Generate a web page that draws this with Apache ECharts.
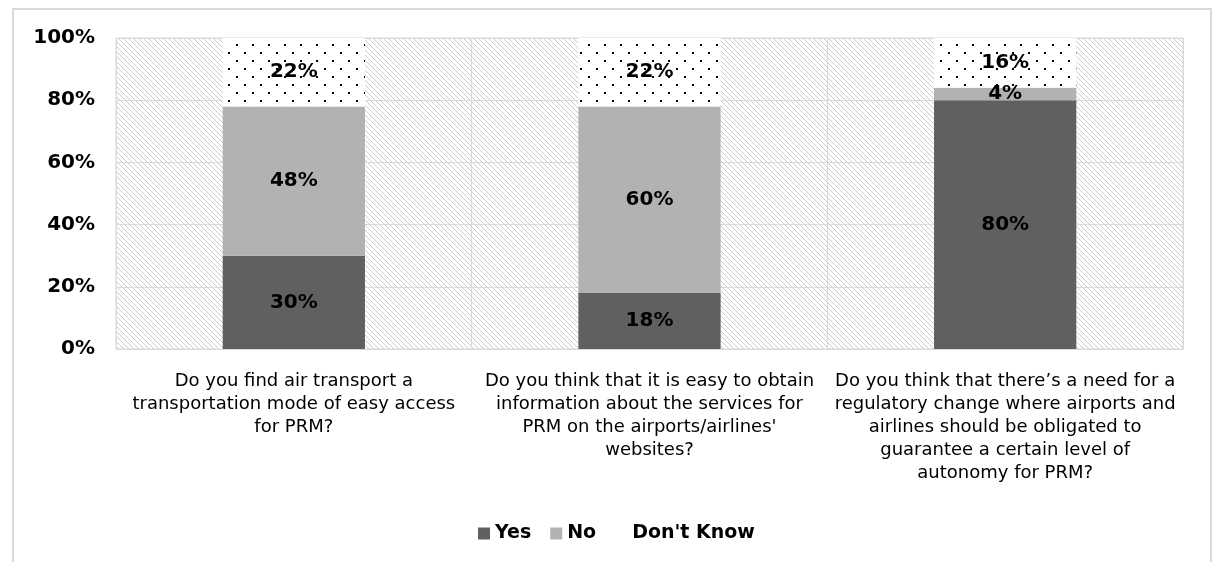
<!DOCTYPE html>
<html>
<head>
<meta charset="utf-8">
<script src="https://cdn.jsdelivr.net/npm/echarts@6/dist/echarts.min.js"></script>
<style>html,body{margin:0;padding:0;background:#fff;}#c{width:1213px;height:562px;}</style>
</head>
<body>
<div id="c"></div>
<script>
const categories = [
  "Do you find air transport a\ntransportation mode of easy access\nfor PRM?",
  "Do you think that it is easy to obtain\ninformation about the services for\nPRM on the airports/airlines'\nwebsites?",
  "Do you think that there\u2019s a need for a\nregulatory change where airports and\nairlines should be obligated to\nguarantee a certain level of\nautonomy for PRM?"
];
const yesValues = [30, 18, 80];
const noValues = [48, 60, 4];
const dontKnowValues = [22, 22, 16];
const yTicks = [0, 20, 40, 60, 80, 100];

function makeDots() {
  const c = document.createElement('canvas');
  c.width = 16; c.height = 16;
  const g = c.getContext('2d');
  g.fillStyle = '#fff'; g.fillRect(0, 0, 16, 16);
  g.fillStyle = '#000';
  g.fillRect(4, 4, 2, 2);
  g.fillRect(12, 12, 2, 2);
  return c;
}
function makeHatch() {
  const n = 5;
  const c = document.createElement('canvas');
  c.width = n; c.height = n;
  const g = c.getContext('2d');
  g.fillStyle = '#fff'; g.fillRect(0, 0, n, n);
  g.fillStyle = '#cccccc';
  for (let i = 0; i < n; i++) g.fillRect(i, i, 1, 1);
  return c;
}
const dotPattern = { image: makeDots(), repeat: 'repeat' };
const hatchPattern = { image: makeHatch(), repeat: 'repeat' };

const chart = echarts.init(document.getElementById('c'), null, { renderer: 'canvas' });
const labelStyle = {
  show: true, position: 'inside', color: '#000', fontFamily: 'DejaVu Sans',
  fontWeight: 'bold', fontSize: 20, formatter: p => p.value + '%'
};
chart.setOption({
  backgroundColor: '#fff',
  animation: false,
  graphic: [{
    type: 'rect', z: -10, silent: true,
    shape: { x: 13, y: 9, width: 1198, height: 620 },
    style: { fill: 'none', stroke: '#d9d9d9', lineWidth: 2 }
  }],
  grid: {
    left: 116, right: 30, top: 38, bottom: 213,
    show: true, backgroundColor: hatchPattern, borderColor: '#d9d9d9', borderWidth: 1
  },
  legend: {
    left: 473, top: 519, itemWidth: 12, itemHeight: 12, itemGap: 19,
    icon: 'rect',
    textStyle: { fontFamily: 'DejaVu Sans', fontWeight: 'bold', fontSize: 19, color: '#000' },
    data: [
      { name: 'Yes' }, { name: 'No' },
      { name: "Don't Know", itemStyle: { color: '#fff' } }
    ]
  },
  xAxis: {
    type: 'category', data: categories,
    axisLine: { show: true, lineStyle: { color: '#d9d9d9', width: 1 } },
    axisTick: { show: false },
    splitLine: { show: true, lineStyle: { color: '#d9d9d9', width: 1 } },
    axisLabel: {
      interval: 0, margin: 21, color: '#000', fontFamily: 'DejaVu Sans',
      fontSize: 18, lineHeight: 23, align: 'center'
    }
  },
  yAxis: {
    type: 'value', min: 0, max: 100, interval: 20,
    axisLine: { show: false }, axisTick: { show: false },
    splitLine: { show: true, lineStyle: { color: '#d9d9d9', width: 1 } },
    axisLabel: {
      margin: 21, color: '#000', fontFamily: 'DejaVu Sans', fontWeight: 'bold', fontSize: 20,
      formatter: v => (yTicks.includes(v) ? v + '%' : '')
    }
  },
  series: [
    { name: 'Yes', type: 'bar', stack: 's', barWidth: '40%', data: yesValues,
      itemStyle: { color: '#606060' }, label: labelStyle },
    { name: 'No', type: 'bar', stack: 's', barWidth: '40%', data: noValues,
      itemStyle: { color: '#b2b2b2' }, label: labelStyle },
    { name: "Don't Know", type: 'bar', stack: 's', barWidth: '40%', data: dontKnowValues,
      itemStyle: { color: dotPattern }, label: labelStyle }
  ]
});
</script>
</body>
</html>
